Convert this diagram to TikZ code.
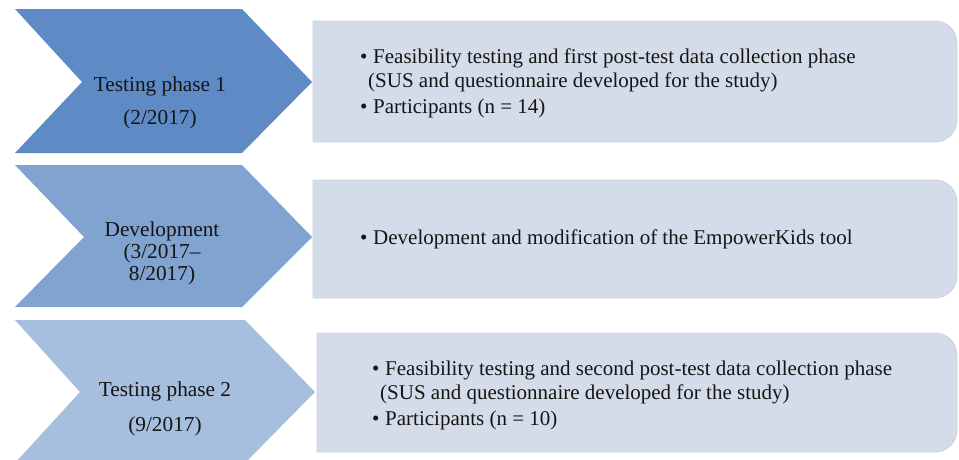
\documentclass[tikz,border=0pt]{standalone}
\usepackage{fontspec}
\setmainfont{Liberation Serif}
\definecolor{chevA}{HTML}{5E8BC6}
\definecolor{chevB}{HTML}{80A3D0}
\definecolor{chevC}{HTML}{A7BFDF}
\definecolor{boxfill}{HTML}{D5DCE9}
\definecolor{boxline}{HTML}{CBD3E3}
\definecolor{txt}{HTML}{151515}
\begin{document}
\begin{tikzpicture}[x=1pt,y=-1pt,
  chevtxt/.style={anchor=base,inner sep=0pt,text=txt,font=\fontsize{21.3}{24}\selectfont},
  boxtxt/.style={anchor=base west,inner sep=0pt,text=txt,font=\fontsize{21}{24}\selectfont},
  panel/.style={fill=boxfill,draw=boxline,line width=0.8pt}]
\useasboundingbox (0,0) rectangle (959,459);
\fill[white] (0,0) rectangle (959,459);
% chevrons
\fill[chevA] (15,9) -- (242,9) -- (312,82) -- (242,153) -- (15,153) -- (82,82) -- cycle;
\fill[chevB] (15,165) -- (242,165) -- (312,237) -- (242,307) -- (15,307) -- (84,237) -- cycle;
\fill[chevC] (15,320) -- (245,320) -- (315,392) -- (245,463) -- (15,463) -- (80,392) -- cycle;
% panels
\path[panel] (313,21) -- (935,21) arc[start angle=-90,end angle=0,radius=22] -- (957,120) arc[start angle=0,end angle=90,radius=22] -- (313,142) -- cycle;
\path[panel] (313,180) -- (935,180) arc[start angle=-90,end angle=0,radius=22] -- (957,276) arc[start angle=0,end angle=90,radius=22] -- (313,298) -- cycle;
\path[panel] (317,333) -- (935,333) arc[start angle=-90,end angle=0,radius=22] -- (957,430) arc[start angle=0,end angle=90,radius=22] -- (317,452) -- cycle;
% chevron texts
\node[chevtxt] (c1a) at (160,91) {Testing phase 1};
\node[chevtxt] (c1b) at (160,124) {(2/2017)};
\node[chevtxt] (c2a) at (162,236) {Development};
\node[chevtxt] (c2b) at (162,258) {(3/2017–};
\node[chevtxt] (c2c) at (162,280) {8/2017)};
\node[chevtxt] (c3a) at (165,396) {Testing phase 2};
\node[chevtxt] (c3b) at (165,431) {(9/2017)};
% panel texts
\node[boxtxt] (d1a) at (360,63) {•};
\node[boxtxt] (p1a) at (373,63) {Feasibility testing and first post-test data collection phase};
\node[boxtxt] (p1b) at (368,87) {(SUS and questionnaire developed for the study)};
\node[boxtxt] (d1c) at (360,113) {•};
\node[boxtxt] (p1c) at (373,113) {Participants (n = 14)};
\node[boxtxt] (d2a) at (360,244) {•};
\node[boxtxt] (p2a) at (373,244) {Development and modification of the EmpowerKids tool};
\node[boxtxt] (d3a) at (372,375) {•};
\node[boxtxt] (p3a) at (385,375) {Feasibility testing and second post-test data collection phase};
\node[boxtxt] (p3b) at (380,399) {(SUS and questionnaire developed for the study)};
\node[boxtxt] (d3c) at (372,425) {•};
\node[boxtxt] (p3c) at (385,425) {Participants (n = 10)};
\end{tikzpicture}
\end{document}
